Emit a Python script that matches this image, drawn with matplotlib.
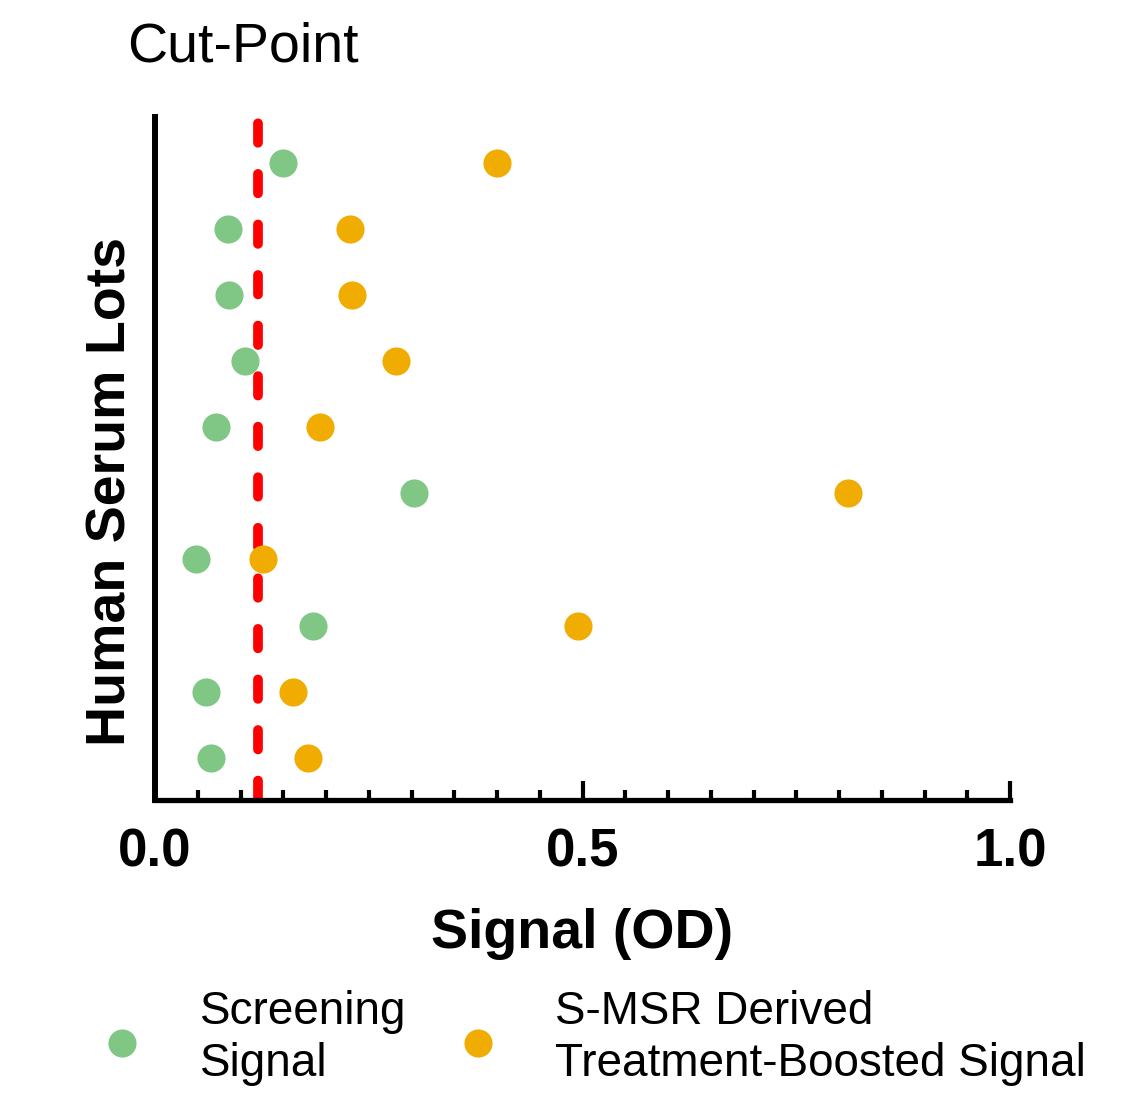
import matplotlib
matplotlib.use("Agg")
import matplotlib.pyplot as plt
from matplotlib.ticker import MultipleLocator, FixedLocator

# ── data ─────────────────────────────────────────────────────────────────────
lots = [10, 9, 8, 7, 6, 5, 4, 3, 2, 1]
screening = [0.150, 0.085, 0.087, 0.105, 0.071, 0.303, 0.048, 0.185, 0.060, 0.065]
boosted = [0.400, 0.228, 0.230, 0.282, 0.193, 0.811, 0.126, 0.495, 0.161, 0.179]
cut_point = 0.121

labels = ["Screening\nSignal", "S-MSR Derived\nTreatment-Boosted Signal"]
green = "#80C785"
orange = "#F0AC00"

plt.rcParams["font.family"] = ["Liberation Sans", "DejaVu Sans"]

fig = plt.figure(figsize=(11.34, 10.95), dpi=100)
ax = fig.add_axes([0.1367, 0.2694, 0.754, 0.624])

ax.scatter(screening, lots, s=410, color=green, zorder=3,
           label=labels[0], linewidths=0)
ax.scatter(boosted, lots, s=410, color=orange, zorder=3,
           label=labels[1], linewidths=0)
ax.axvline(cut_point, color="red", lw=7, ls=(0, (2.0, 3.2)),
           dash_capstyle="round", zorder=2)

ax.set_xlim(0, 1.0)
ax.set_ylim(0.36, 10.7)

# spines
for side in ("top", "right"):
    ax.spines[side].set_visible(False)
ax.spines["left"].set_linewidth(4.3)
ax.spines["bottom"].set_linewidth(3.8)
ax.spines["bottom"].set_capstyle("projecting")

# ticks: inward, major at 0/0.5/1 plus an unlabelled one at the cut-point
ax.xaxis.set_major_locator(FixedLocator([0.0, cut_point, 0.5, 1.0]))
ax.set_xticklabels(["0.0", "", "0.5", "1.0"])
ax.xaxis.set_minor_locator(MultipleLocator(0.05))
ax.tick_params(axis="x", which="major", direction="in", length=14, width=3,
               labelsize=38, pad=20)
ax.tick_params(axis="x", which="minor", direction="in", length=7, width=3)
for t in ax.get_xticklabels():
    t.set_fontweight("bold")
ax.set_yticks([])

ax.set_xlabel("Signal (OD)", fontsize=40, fontweight="bold", labelpad=22)
ax.set_ylabel("Human Serum Lots", fontsize=40, fontweight="bold")
ax.yaxis.set_label_coords(-0.021, 0.451)

fig.text(0.214, 0.957, "Cut-Point", fontsize=40, ha="center", va="center")

leg = fig.legend(loc="center left", bbox_to_anchor=(0.047, 0.052), ncol=2,
                 frameon=False, fontsize=33, handletextpad=0.7,
                 columnspacing=0.55, borderpad=0, markerscale=1.0)
for t in leg.get_texts():
    t.set_linespacing(1.25)

fig.savefig("out.png", dpi=100)
